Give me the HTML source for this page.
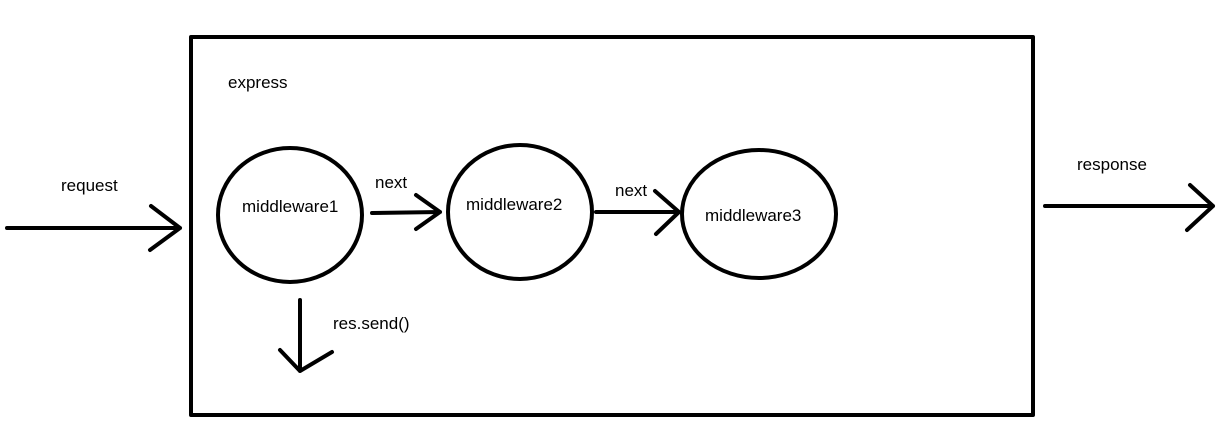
<!DOCTYPE html>
<html><head><style>
html,body{margin:0;padding:0;background:#fff;}
svg{display:block;}
text{font-family:"Liberation Sans","Noto Sans CJK SC",sans-serif;font-size:17px;fill:#000;}
</style></head><body>
<svg width="1231" height="427" viewBox="0 0 1231 427" xmlns="http://www.w3.org/2000/svg">
<g fill="none" stroke="#000" stroke-width="4" stroke-linecap="round" stroke-linejoin="round">
<rect x="191" y="37" width="842" height="378"/>
<ellipse cx="290" cy="215" rx="72" ry="67"/>
<ellipse cx="520" cy="212" rx="72" ry="67"/>
<ellipse cx="759" cy="214" rx="77" ry="64"/>
<path d="M7 228 H180 M151 206 L180 228 L150 250"/>
<path d="M372 213 L440 212 M416 195 L440 212 L416 229"/>
<path d="M596 212 L679 212 M655 191 L679 212 L656 234"/>
<path d="M300 300 V371 M280 350 L300 371 L332 352"/>
<path d="M1045 206 H1213 M1190 185 L1213 206 L1187 230"/>
</g>
<text x="228" y="88">express</text>
<text x="61" y="191">request</text>
<text x="242" y="212">middleware1</text>
<text x="375" y="188">next</text>
<text x="466" y="210">middleware2</text>
<text x="615" y="196">next</text>
<text x="705" y="221">middleware3</text>
<text x="1077" y="170">response</text>
<text x="333" y="329">res.send()</text>
</svg>
</body></html>
